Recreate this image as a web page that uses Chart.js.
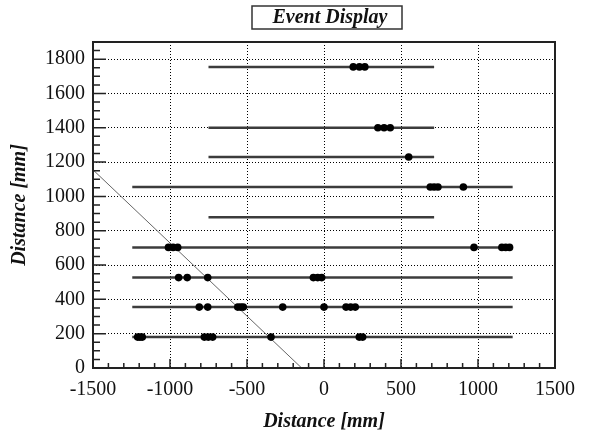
<!DOCTYPE html>
<html>
<head>
<meta charset="utf-8">
<script src="https://cdn.jsdelivr.net/npm/chart.js@4"></script>
<style>
    html, body { margin: 0; padding: 0; background: #fff; }
    #wrap { width: 589px; height: 434px; }
</style>
</head>
<body>
<div id="wrap"><canvas id="eventChart" width="589" height="434"></canvas></div>
<script>
// Detector layers (mm)
const layerY     = [180, 355, 527, 703, 878, 1055, 1230, 1400, 1755];
const layerStart = [-1245, -1245, -1245, -1245, -750, -1245, -750, -750, -750];
const layerEnd   = [1225, 1225, 1225, 1225, 715, 1225, 715, 715, 715];

// Hits on each layer (x position, mm)
const layerHits = [
    [-1210, -1195, -1180, -777, -751, -723, -344, 229, 251],
    [-810, -755, -560, -541, -524, -268, 0, 143, 173, 203],
    [-944, -888, -755, -69, -41, -15],
    [-1010, -980, -950, 974, 1155, 1180, 1205],
    [],
    [690, 715, 740, 905],
    [550],
    [350, 390, 430],
    [190, 230, 265]
];

// Reconstructed track
const trackX = [-1500, -145];
const trackY = [1155, 0];

const xTicks = [-1500, -1000, -500, 0, 500, 1000, 1500];
const yTicks = [0, 200, 400, 600, 800, 1000, 1200, 1400, 1600, 1800];

const serif = '"Liberation Serif", "Times New Roman", serif';

document.addEventListener('DOMContentLoaded', function() {
    const datasets = [];

    // hits on top
    const hitPoints = [];
    layerHits.forEach((hits, i) => {
        hits.forEach(x => hitPoints.push({ x: x, y: layerY[i] }));
    });
    datasets.push({
        label: 'Hits',
        data: hitPoints,
        showLine: false,
        pointRadius: 3.8,
        pointBackgroundColor: '#000',
        pointBorderColor: '#000',
        pointBorderWidth: 0,
        order: 0
    });

    // layers
    layerY.forEach((y, i) => {
        datasets.push({
            label: 'Layer ' + i,
            data: [{ x: layerStart[i], y: y }, { x: layerEnd[i], y: y }],
            showLine: true,
            borderColor: '#3c3c3c',
            borderWidth: 2.5,
            pointRadius: 0,
            order: 2
        });
    });

    // track
    datasets.push({
        label: 'Track',
        data: trackX.map((x, i) => ({ x: x, y: trackY[i] })),
        showLine: true,
        borderColor: '#666',
        borderWidth: 1,
        pointRadius: 0,
        order: 1
    });

    // frame, inward ticks and boxed title
    const framePlugin = {
        id: 'frame',
        afterDatasetsDraw(chart) {
            const ctx = chart.ctx;
            const a = chart.chartArea;
            const xs = chart.scales.x;
            const ys = chart.scales.y;
            ctx.save();
            ctx.strokeStyle = '#222';
            ctx.lineWidth = 2;
            ctx.strokeRect(a.left, a.top, a.right - a.left, a.bottom - a.top);

            ctx.lineWidth = 1.5;
            ctx.beginPath();
            for (let v = -1500; v <= 1500; v += 100) {
                const px = xs.getPixelForValue(v);
                const len = (v % 500 === 0) ? 9 : 5;
                ctx.moveTo(px, a.bottom);
                ctx.lineTo(px, a.bottom - len);
            }
            for (let v = 0; v <= 1900; v += 50) {
                const py = ys.getPixelForValue(v);
                const len = (v % 200 === 0) ? 13 : 7;
                ctx.moveTo(a.left, py);
                ctx.lineTo(a.left + len, py);
            }
            ctx.stroke();
            ctx.restore();
        },
        afterDraw(chart) {
            const ctx = chart.ctx;
            ctx.save();
            ctx.strokeStyle = '#333';
            ctx.lineWidth = 1.5;
            ctx.strokeRect(252, 6, 150, 23);
            ctx.fillStyle = '#111';
            ctx.font = 'italic bold 20px ' + serif;
            ctx.textAlign = 'center';
            ctx.textBaseline = 'middle';
            ctx.fillText('Event Display', 330, 18);
            ctx.restore();
        }
    };

    const ctx = document.getElementById('eventChart').getContext('2d');
    new Chart(ctx, {
        type: 'scatter',
        data: { datasets: datasets },
        plugins: [framePlugin],
        options: {
            responsive: false,
            animation: false,
            devicePixelRatio: 1,
            layout: { padding: { top: 42, right: 34, left: 0, bottom: 0 } },
            plugins: {
                legend: { display: false },
                tooltip: { enabled: false },
                title: { display: false }
            },
            scales: {
                x: {
                    type: 'linear',
                    min: -1500,
                    max: 1500,
                    afterFit: function(scale) { scale.height = 66; },
                    afterBuildTicks: function(scale) {
                        scale.ticks = xTicks.map(v => ({ value: v }));
                    },
                    grid: {
                        color: '#000',
                        lineWidth: 1,
                        drawTicks: false
                    },
                    border: { display: false, dash: [1, 2] },
                    ticks: {
                        color: '#111',
                        padding: 10,
                        maxRotation: 0,
                        font: { family: serif, size: 20 },
                        callback: function(value) { return String(value); }
                    },
                    title: {
                        display: true,
                        text: 'Distance [mm]',
                        color: '#111',
                        padding: { top: 0, bottom: 0 },
                        font: { family: serif, size: 20, style: 'italic', weight: 'bold' }
                    }
                },
                y: {
                    type: 'linear',
                    min: 0,
                    max: 1900,
                    afterFit: function(scale) { scale.width = 93; },
                    afterBuildTicks: function(scale) {
                        scale.ticks = yTicks.map(v => ({ value: v }));
                    },
                    grid: {
                        color: '#000',
                        lineWidth: 1,
                        drawTicks: false
                    },
                    border: { display: false, dash: [1, 2] },
                    ticks: {
                        color: '#111',
                        padding: 8,
                        font: { family: serif, size: 20 },
                        callback: function(value) { return String(value); }
                    },
                    title: {
                        display: true,
                        text: 'Distance [mm]',
                        color: '#111',
                        padding: { top: 8, bottom: 0 },
                        font: { family: serif, size: 20, style: 'italic', weight: 'bold' }
                    }
                }
            }
        }
    });
});
</script>
</body>
</html>
